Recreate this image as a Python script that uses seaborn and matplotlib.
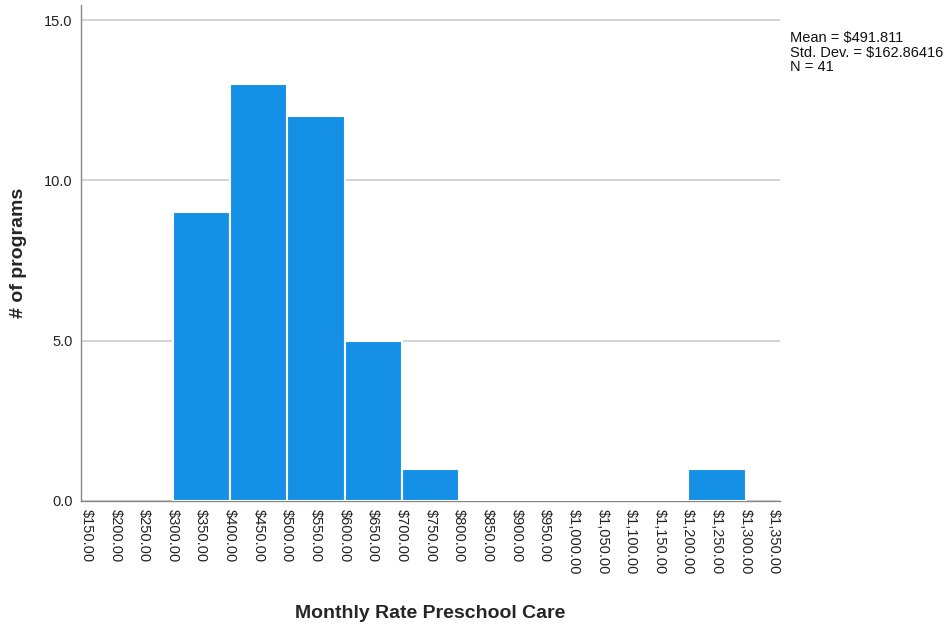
import numpy as np
import pandas as pd
import seaborn as sns
import matplotlib
matplotlib.use('Agg')
import matplotlib.pyplot as plt

# histogram bins ($100 wide) and counts
bin_left = [300, 400, 500, 600, 700, 1200]
counts = [9, 13, 12, 5, 1, 1]
tick_values = np.arange(150, 1400, 50)
stats_text = 'Mean = $491.811\nStd. Dev. = $162.86416\nN = 41'

df = pd.DataFrame({'rate': np.array(bin_left) + 50, 'n': counts})

sns.set_style('white')
plt.rcParams['font.family'] = ['Liberation Sans', 'DejaVu Sans']

fig = plt.figure(figsize=(9.51, 6.24), dpi=100)
ax = fig.add_axes([81 / 951, 1 - 501 / 624, (780 - 81) / 951, (501 - 5) / 624])

sns.histplot(data=df, x='rate', weights='n', binwidth=100, binrange=(300, 1300), ax=ax,
             color='#1490E6', alpha=1, edgecolor='white', linewidth=1.5, zorder=3)

ax.set_xlim(140, 1360)
ax.set_ylim(0, 15.47)
ax.set_yticks([0, 5, 10, 15])
ax.set_yticklabels(['0.0', '5.0', '10.0', '15.0'], fontsize=10.5, color='#222222')
ax.set_xticks(tick_values)
ax.set_xticklabels([f'${v:,.2f}' for v in tick_values], rotation=270, fontsize=10.5,
                   color='#222222')
ax.tick_params(axis='both', length=0, pad=6)
ax.yaxis.grid(True, color='#cccccc', linewidth=1.2, zorder=0)
ax.set_axisbelow(True)

for side in ['top', 'right']:
    ax.spines[side].set_visible(False)
for side in ['left', 'bottom']:
    ax.spines[side].set_color('#888888')
    ax.spines[side].set_linewidth(1)

ax.set_xlabel('Monthly Rate Preschool Care', fontsize=14, fontweight='bold', labelpad=22)
ax.set_ylabel('# of programs', fontsize=14, fontweight='bold', labelpad=12)

fig.text(790 / 951, 1 - 31 / 624, stats_text, fontsize=10.5, va='top', ha='left',
         linespacing=1.05, color='#111111')

fig.savefig('out.png', dpi=100)
